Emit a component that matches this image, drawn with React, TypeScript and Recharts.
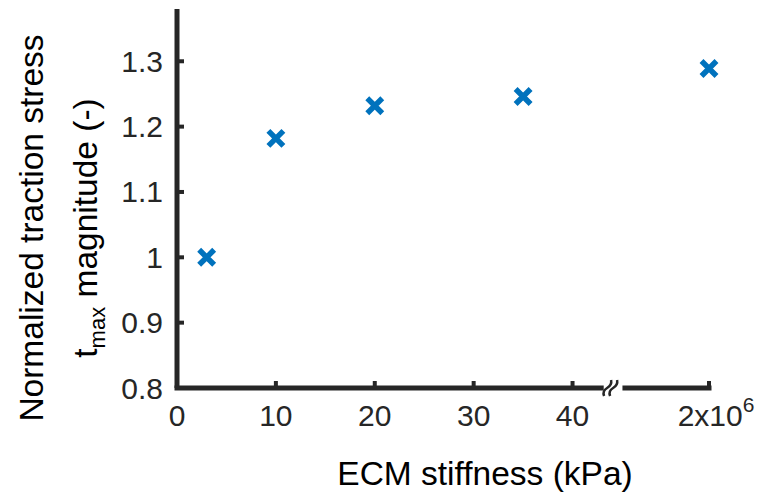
import { ScatterChart, Scatter, XAxis, YAxis, ReferenceLine, ReferenceDot, Label } from 'recharts';

// ECM stiffness (kPa), the last one sits past the axis break
const stiffness = [3, 10, 20, 35, 2e6];
const traction = [1.0, 1.182, 1.232, 1.246, 1.289];
const xTicks = [0, 10, 20, 30, 40];
const yTicks = [0.8, 0.9, 1.0, 1.1, 1.2, 1.3];

const BREAK_VALUE = 2e6;
const BREAK_POS = 53.8; // where 2x10^6 is drawn on the broken axis

const FONT = '"Liberation Sans", Arial, Helvetica, sans-serif';
const AXIS = '#262626';
const BLUE = '#0072BD';

const toPos = (v: number) => (v === BREAK_VALUE ? BREAK_POS : v);
const data = stiffness.map((s, i) => ({ x: toPos(s), y: traction[i] }));

const XTick = ({ x, y, payload }: any) => {
  const isBreak = payload.value === BREAK_POS;
  return (
    <g>
      <line x1={x} y1={y} x2={x} y2={y - 7} stroke={AXIS} strokeWidth={4} />
      {isBreak ? (
        <text x={x + 7} y={y + 38} textAnchor="middle" fontSize={30} fontFamily={FONT} fill={AXIS}>
          2x10<tspan dy={-14} fontSize={21}>6</tspan>
        </text>
      ) : (
        <text x={x} y={y + 38} textAnchor="middle" fontSize={30} fontFamily={FONT} fill={AXIS}>
          {payload.value}
        </text>
      )}
    </g>
  );
};

const YTick = ({ x, y, payload }: any) => (
  <g>
    <line x1={x} y1={y} x2={x + 7} y2={y} stroke={AXIS} strokeWidth={4} />
    <text x={x - 14} y={y + 10.5} textAnchor="end" fontSize={30} fontFamily={FONT} fill={AXIS}>
      {payload.value}
    </text>
  </g>
);

const Cross = ({ cx, cy }: any) => (
  <path
    d={`M${cx - 7.5},${cy - 7.5}L${cx + 7.5},${cy + 7.5}M${cx - 7.5},${cy + 7.5}L${cx + 7.5},${cy - 7.5}`}
    stroke={BLUE}
    strokeWidth={5.5}
    fill="none"
  />
);

const Squiggle = ({ cx, cy }: any) => (
  <g fill="none" stroke={AXIS} strokeWidth={2.5}>
    {[-3, 3].map((o) => (
      <path key={o} d={`M${cx + o - 4},${cy + 8} Q${cx + o - 6},${cy + 3} ${cx + o - 1},${cy} T${cx + o + 3},${cy - 8}`} />
    ))}
  </g>
);

const YLabel = () => (
  <g fontFamily={FONT} fill="#000">
    <text transform="translate(43,228) rotate(-90)" textAnchor="middle" fontSize={33.5}>
      Normalized traction stress
    </text>
    <text transform="translate(97,228) rotate(-90)" textAnchor="middle" fontSize={33.5}>
      t<tspan fontSize={22} dy={8}>max</tspan>
      <tspan dy={-8}> magnitude (-)</tspan>
    </text>
  </g>
);

const XLabel = () => (
  <text x={485} y={485} textAnchor="middle" fontSize={33.5} fontFamily={FONT} fill="#000">
    ECM stiffness (kPa)
  </text>
);

export default function App() {
  return (
    <div style={{ position: 'absolute', left: 0, top: 0, background: '#fff' }}>
      <ScatterChart width={764} height={494} margin={{ top: 9, right: 55, left: 0, bottom: 0 }}>
        <XAxis
          type="number"
          dataKey="x"
          domain={[0, BREAK_POS]}
          ticks={[...xTicks, BREAK_POS]}
          interval={0}
          height={106}
          axisLine={false}
          tickLine={false}
          tickSize={0}
          tickMargin={0}
          tick={<XTick />}
        >
          <Label content={<XLabel />} />
        </XAxis>
        <YAxis
          type="number"
          dataKey="y"
          domain={[0.8, 1.38]}
          ticks={yTicks}
          interval={0}
          width={177}
          axisLine={{ stroke: AXIS, strokeWidth: 5 }}
          tickLine={false}
          tickSize={0}
          tickMargin={0}
          tick={<YTick />}
        >
          <Label content={<YLabel />} />
        </YAxis>
        <ReferenceLine
          segment={[{ x: 0, y: 0.8 }, { x: 42.9, y: 0.8 }]}
          stroke={AXIS}
          strokeWidth={5}
          strokeLinecap="square"
          ifOverflow="visible"
        />
        <ReferenceLine
          segment={[{ x: 45.3, y: 0.8 }, { x: BREAK_POS, y: 0.8 }]}
          stroke={AXIS}
          strokeWidth={5}
          strokeLinecap="square"
          ifOverflow="visible"
        />
        <ReferenceDot x={43.9} y={0.8} r={8} ifOverflow="visible" shape={<Squiggle />} />
        <Scatter data={data} shape={<Cross />} isAnimationActive={false} />
      </ScatterChart>
    </div>
  );
}
